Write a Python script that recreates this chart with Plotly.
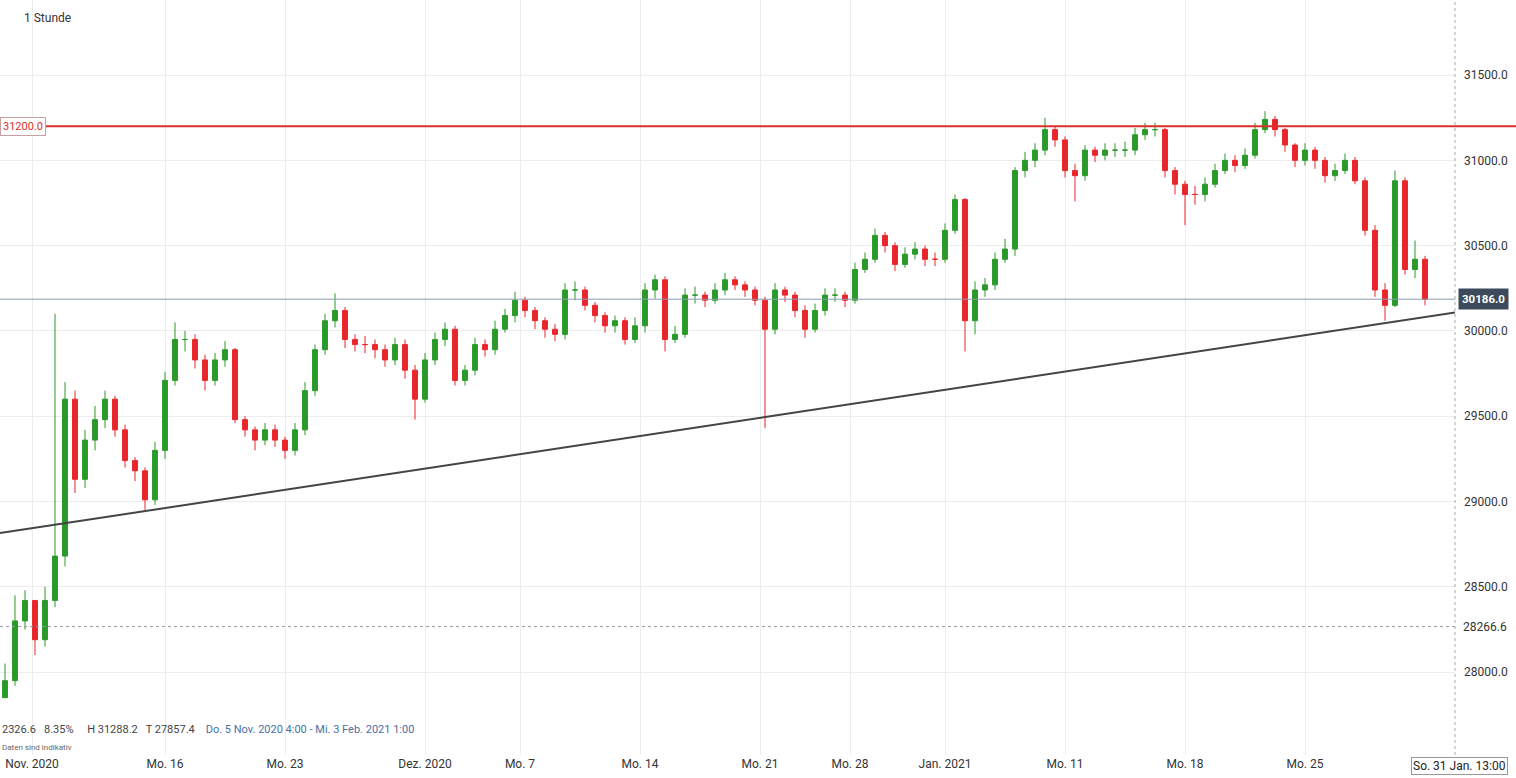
import plotly.graph_objects as go

closes = [27950,28300,28420,28190,28420,28680,29600,29130,29360,29480,
29600,29420,29240,29180,29010,29300,29710,29950,29950,29830,
29710,29830,29890,29480,29420,29360,29420,29360,29300,29420,
29650,29890,30060,30120,29950,29920,29920,29890,29830,29920,
29770,29600,29830,29950,30010,29710,29770,29920,29890,30010,
30090,30180,30120,30060,30010,29980,30240,30240,30150,30090,
30030,30060,29950,30030,30240,30300,29950,29980,30210,30210,
30180,30240,30300,30270,30240,30180,30010,30240,30210,30120,
30010,30120,30210,30210,30180,30360,30420,30560,30500,30390,
30450,30480,30420,30420,30590,30770,30060,30240,30270,30420,
30480,30940,31000,31060,31180,31120,30940,30910,31060,31030,
31060,31060,31060,31150,31180,31180,30940,30860,30800,30800,
30860,30940,31000,30970,31030,31180,31240,31180,31090,31000,
31060,31000,30910,30940,31000,30880,30590,30240,30150,30880,
30360,30420,30186]
highs = [28050,28450,28480,28420,28500,30100,29700,29650,29420,29560,
29650,29620,29450,29260,29200,29350,29760,30050,30000,29980,
29860,29870,29940,29900,29500,29440,29460,29450,29380,29460,
29700,29920,30100,30220,30140,29980,29970,29950,29920,29960,
29950,29800,29870,29990,30050,30030,29800,29960,29950,30060,
30130,30230,30200,30140,30080,30040,30280,30290,30260,30170,
30110,30090,30080,30080,30280,30330,30320,30030,30250,30260,
30230,30280,30340,30320,30290,30260,30200,30280,30260,30230,
30150,30160,30250,30250,30230,30400,30460,30600,30580,30520,
30490,30520,30500,30460,30630,30800,30780,30290,30310,30460,
30540,30960,31050,31100,31250,31200,31140,30980,31090,31080,
31100,31100,31110,31190,31220,31220,31190,30960,30880,30850,
30900,30980,31040,31030,31070,31220,31288,31260,31190,31100,
31100,31080,31020,30980,31040,31020,30900,30620,30280,30940,
30900,30530,30440]
lows = [27857,27920,28250,28100,28150,28380,28620,29050,29080,29300,
29430,29380,29200,29120,28950,28980,29250,29680,29880,29780,
29650,29680,29790,29460,29380,29300,29330,29320,29250,29270,
29390,29620,29860,30020,29900,29880,29870,29840,29790,29800,
29720,29480,29580,29800,29910,29680,29680,29740,29850,29860,
29990,30050,30080,30010,29960,29940,29950,30180,30120,30050,
29990,29990,29920,29930,29990,30190,29880,29930,29960,30160,
30140,30160,30210,30240,30200,30150,29430,29980,30170,30080,
29960,29990,30090,30170,30140,30160,30340,30400,30460,30350,
30370,30420,30380,30380,30400,30570,29880,29980,30200,30240,
30400,30440,30900,30960,31030,31080,30900,30760,30880,30990,
31000,31020,31020,31030,31120,31140,30900,30800,30620,30740,
30760,30840,30920,30930,30950,31010,31160,31140,31050,30960,
30970,30950,30870,30880,30920,30860,30560,30200,30060,30140,
30330,30310,30150]
first_open = 27850
opens = [first_open] + closes[:-1]

tick_pos = [2.7, 16, 28, 42, 51.5, 63.5, 75.5, 84.5, 94, 106, 118, 130]
tick_text = ["Nov. 2020", "Mo. 16", "Mo. 23", "Dez. 2020", "Mo. 7", "Mo. 14",
             "Mo. 21", "Mo. 28", "Jan. 2021", "Mo. 11", "Mo. 18", "Mo. 25"]
y_ticks = [28000, 28500, 29000, 29500, 30000, 30500, 31000, 31500]

resistance = 31200.0
last_price = 30186.0
dashed_level = 28266.6
trend_x = [-0.5, 152]
trend_y = [28815, 30170]

x = list(range(len(closes)))
GREEN, RED = "#2a9a2a", "#e8262b"

fig = go.Figure(go.Candlestick(
    x=x, open=opens, high=highs, low=lows, close=closes,
    increasing=dict(line=dict(color=GREEN, width=1), fillcolor=GREEN),
    decreasing=dict(line=dict(color=RED, width=1), fillcolor=RED),
    whiskerwidth=0, showlegend=False, hoverinfo="skip"))

fig.add_shape(type="line", xref="paper", x0=0, x1=1.05, y0=resistance, y1=resistance,
              line=dict(color="#d9302e", width=2))
fig.add_shape(type="line", xref="paper", x0=0, x1=1.0, y0=last_price, y1=last_price,
              line=dict(color="#8a9bb0", width=1))
fig.add_shape(type="line", xref="paper", x0=0, x1=1.0, y0=dashed_level, y1=dashed_level,
              line=dict(color="#999", width=1, dash="dot"))
fig.add_shape(type="line", x0=trend_x[0], x1=trend_x[1], y0=trend_y[0], y1=trend_y[1],
              line=dict(color="#444", width=2))
fig.add_shape(type="line", xref="paper", yref="paper", x0=1, x1=1, y0=0, y1=1,
              line=dict(color="#aaa", width=1, dash="dot"))

fig.add_annotation(xref="paper", x=0, xanchor="left", y=resistance, text="31200.0",
                   showarrow=False, font=dict(size=11, color="#d9302e"),
                   bgcolor="white", bordercolor="#c9a0a0", borderwidth=1, borderpad=2)
fig.add_annotation(xref="paper", x=1.002, xanchor="left", y=last_price, text="<b>30186.0</b>",
                   showarrow=False, font=dict(size=11.5, color="white"),
                   bgcolor="#3d4a5c", borderpad=3)
fig.add_annotation(xref="paper", x=1.004, xanchor="left", y=dashed_level, text="28266.6",
                   showarrow=False, font=dict(size=12, color="#333"), bgcolor="white")
fig.add_annotation(xref="paper", yref="paper", x=0.015, y=0.988, xanchor="left",
                   text="1 Stunde", showarrow=False, font=dict(size=12, color="#333"))
fig.add_annotation(xref="paper", yref="paper", x=0.0, y=0.022, xanchor="left",
                   text="2326.6 &nbsp; 8.35% &nbsp; &nbsp; H 31288.2 &nbsp; T 27857.4 &nbsp; &nbsp;"
                        "<span style='color:#4a6fa5'>Do. 5 Nov. 2020 4:00 - Mi. 3 Feb. 2021 1:00</span>",
                   showarrow=False, font=dict(size=11, color="#444"))
fig.add_annotation(xref="paper", yref="paper", x=0.0, y=0.001, xanchor="left",
                   text="Daten sind indikativ", showarrow=False, font=dict(size=8, color="#666"))
fig.add_annotation(xref="paper", yref="paper", x=0.97, y=-0.002, xanchor="left", yanchor="top",
                   text="So. 31 Jan. 13:00", showarrow=False, font=dict(size=12, color="#222"),
                   bgcolor="white", bordercolor="#999", borderwidth=1, borderpad=1)

fig.update_layout(
    width=1516, height=778, margin=dict(l=0, r=61, t=0, b=23),
    paper_bgcolor="white", plot_bgcolor="white",
    font=dict(family="Roboto, Arial, sans-serif", size=12, color="#333"),
    xaxis=dict(range=[-0.5, 145], tickvals=tick_pos, ticktext=tick_text,
               showgrid=True, gridcolor="#ececec", rangeslider=dict(visible=False),
               ticks="", zeroline=False, showline=False),
    yaxis=dict(range=[27514, 31940], side="right", tickvals=y_ticks,
               ticktext=[f"{v:.1f}" for v in y_ticks], showgrid=True, gridcolor="#ececec",
               zeroline=False, ticks="", ticklabelstandoff=8),
)
fig.write_html("out.html", config={"displayModeBar": False},
               post_script="document.body.style.margin='0';document.body.style.overflow='hidden';")
